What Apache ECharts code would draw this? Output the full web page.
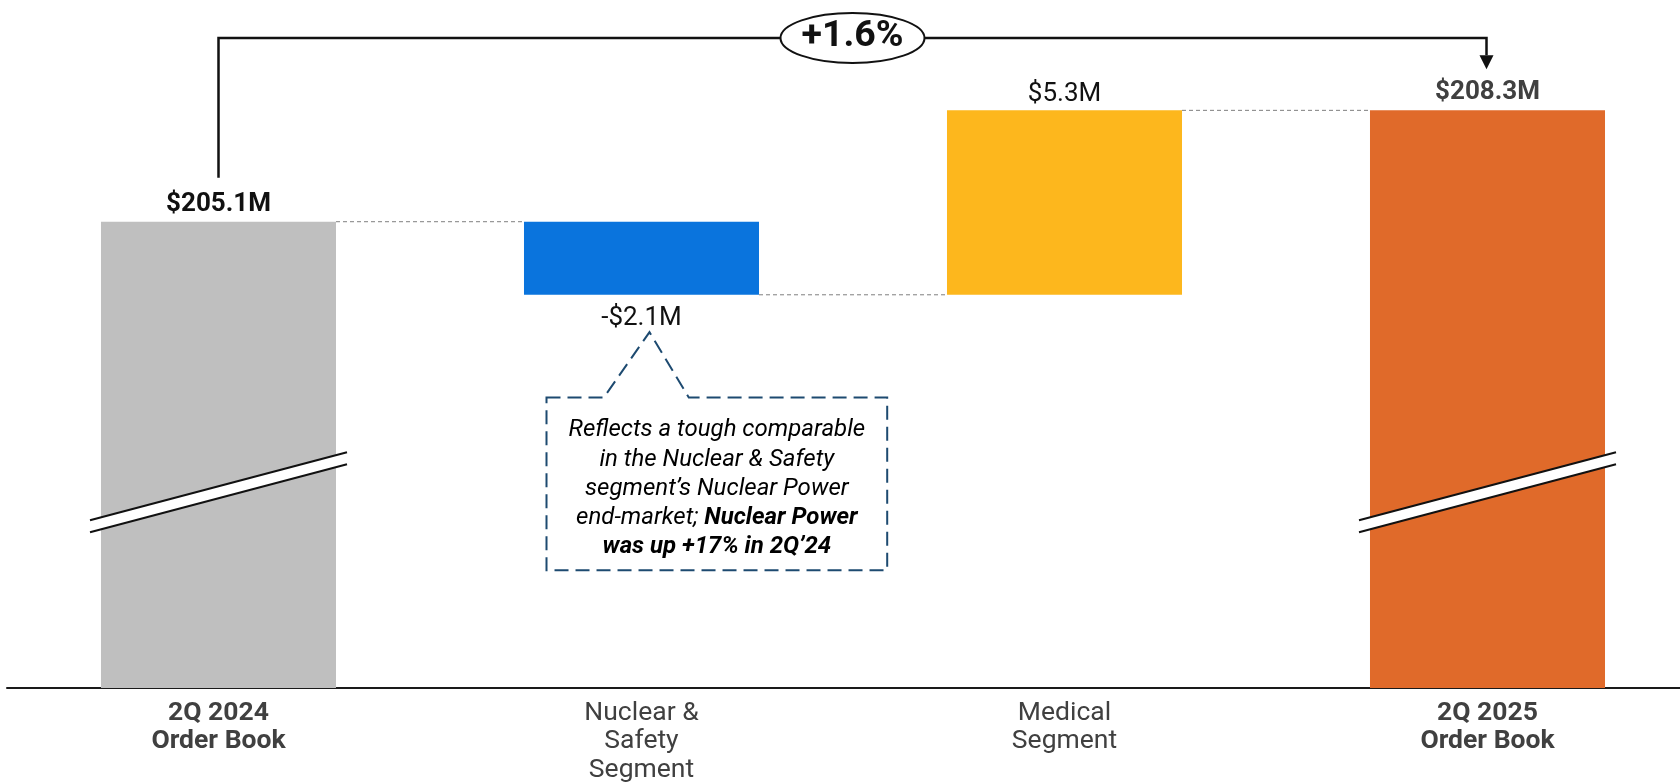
<!DOCTYPE html>
<html>
<head>
<meta charset="utf-8">
<title>Order Book Bridge</title>
<script src="https://cdn.jsdelivr.net/npm/echarts@6/dist/echarts.min.js"></script>
<style>
  html, body { margin: 0; padding: 0; background: #ffffff; }
  #chart { width: 1680px; height: 783px; }
</style>
</head>
<body>
<div id="chart"></div>
<script>
// ---- Data ($M) ----
const categories = ['2Q 2024\nOrder Book', 'Nuclear &\nSafety\nSegment', 'Medical\nSegment', '2Q 2025\nOrder Book'];
const totalCategories = [0, 3];
const openingBook = [205.1];
const segmentChanges = [-2.1, 5.3];
const closingBook = [208.3];
const calloutText = [
  '{i|Reflects a tough comparable}',
  '{i|in the Nuclear & Safety}',
  '{i|segment\u2019s Nuclear Power}',
  '{i|end-market; }{bi|Nuclear Power}',
  '{bi|was up +17% in 2Q\u201924}'
];

// ---- Styling ----
const barColors = ['#bfbfbf', '#0a74dd', '#fdb71d', '#e06a2a'];
const BAR_RATIO = 0.5556;
const FONT = 'Roboto, "Noto Sans", sans-serif';
const CALLOUT_COLOR = '#1d4a70';
const BREAK_VALUE = 197.5;

// Waterfall rows: [index, low, high, runningLevel, signedValue, isTotal]
const steps = [{ total: true, value: openingBook[0] }]
  .concat(segmentChanges.map(v => ({ total: false, value: v })))
  .concat([{ total: true, value: closingBook[0] }]);
let level = 0;
const rows = steps.map((s, i) => {
  let low, high;
  if (s.total) {
    level = s.value; low = s.value; high = s.value;
  } else {
    const prev = level;
    level = +(prev + s.value).toFixed(4);
    low = Math.min(prev, level); high = Math.max(prev, level);
  }
  return [i, low, high, level, s.value, s.total ? 1 : 0];
});
const growthPct = (closingBook[0] / openingBook[0] - 1) * 100;

function money(v) {
  return (v < 0 ? '-' : '') + '$' + Math.abs(v).toFixed(1) + 'M';
}

function renderBar(params, api) {
  const i = api.value(0);
  const low = api.value(1);
  const high = api.value(2);
  const lvl = api.value(3);
  const v = api.value(4);
  const isTotal = api.value(5) === 1;
  const cs = params.coordSys;
  const axisY = cs.y + cs.height;
  const topPt = api.coord([i, high]);
  const cx = topPt[0];
  const yTop = topPt[1];
  const yBottom = isTotal ? axisY : api.coord([i, low])[1];
  const bw = api.size([1, 0])[0] * BAR_RATIO;
  const children = [{
    type: 'rect',
    shape: { x: cx - bw / 2, y: yTop, width: bw, height: yBottom - yTop },
    style: { fill: barColors[i] }
  }];

  if (isTotal) {
    // axis-break marker across the tall total bars
    const yc = api.coord([i, BREAK_VALUE])[1];
    const hx = bw / 2 + 11;
    const rise = 34;
    const gap = 12;
    children.push({
      type: 'polygon',
      shape: { points: [[cx - hx, yc + rise], [cx + hx, yc - rise], [cx + hx, yc - rise + gap], [cx - hx, yc + rise + gap]] },
      style: { fill: '#ffffff' }
    });
    children.push({
      type: 'line',
      shape: { x1: cx - hx, y1: yc + rise, x2: cx + hx, y2: yc - rise },
      style: { stroke: '#111111', lineWidth: 2 }
    });
    children.push({
      type: 'line',
      shape: { x1: cx - hx, y1: yc + rise + gap, x2: cx + hx, y2: yc - rise + gap },
      style: { stroke: '#111111', lineWidth: 2 }
    });
  }

  // value label
  const labelY = v >= 0 ? yTop - (isTotal ? 17.5 : 16) : yBottom + 23.5;
  children.push({
    type: 'text',
    style: {
      text: money(v), x: cx, y: labelY,
      align: 'center', verticalAlign: 'middle',
      textAlign: 'center', textVerticalAlign: 'middle',
      fontFamily: FONT, fontSize: 26,
      fontWeight: isTotal ? 'bold' : 'normal',
      fill: i === categories.length - 1 ? '#404040' : '#111111'
    }
  });

  // dashed connector to the next bar
  if (i < categories.length - 1) {
    const yl = api.coord([i, lvl])[1];
    const nx = api.coord([i + 1, lvl])[0];
    children.push({
      type: 'line',
      shape: { x1: cx + bw / 2, y1: yl, x2: nx - bw / 2, y2: yl },
      style: { stroke: '#7f7f7f', lineWidth: 1, lineDash: [4, 3] }
    });
  }
  return { type: 'group', children: children };
}

function renderNotes(params, api) {
  const first = api.coord([0, openingBook[0]]);
  const last = api.coord([categories.length - 1, closingBook[0]]);
  const children = [];

  // growth bracket from opening to closing book
  const bracketY = 38;
  const x0 = first[0];
  const x1 = last[0] - 1;
  const tipY = last[1] - 41;
  const head = 14;
  children.push({
    type: 'polyline',
    shape: { points: [[x0, first[1] - 44], [x0, bracketY], [x1, bracketY], [x1, tipY - head]] },
    style: { stroke: '#111111', lineWidth: 2.5, fill: null }
  });
  children.push({
    type: 'polygon',
    shape: { points: [[x1 - 7, tipY - head], [x1 + 7, tipY - head], [x1, tipY]] },
    style: { fill: '#111111' }
  });
  const ex = (x0 + x1) / 2;
  children.push({
    type: 'ellipse',
    shape: { cx: ex, cy: bracketY, rx: 72, ry: 25 },
    style: { fill: '#ffffff', stroke: '#111111', lineWidth: 2 }
  });
  children.push({
    type: 'text',
    style: {
      text: '+' + growthPct.toFixed(1) + '%', x: ex, y: bracketY - 1,
      align: 'center', verticalAlign: 'middle',
      textAlign: 'center', textVerticalAlign: 'middle',
      fontFamily: FONT, fontSize: 37.5, fontWeight: 'bold', fill: '#111111'
    }
  });

  // callout under the Nuclear & Safety bar
  const seg = rows[1];
  const bottomPt = api.coord([1, seg[1]]);
  const bx = bottomPt[0];
  const by = bottomPt[1];
  const left = bx - 95, right = bx + 245.7, top = by + 102.7, bottom = by + 275.4;
  children.push({
    type: 'polygon',
    shape: {
      points: [[left, top], [bx - 37.7, top], [bx + 8, by + 37.4], [bx + 47.3, top],
               [right, top], [right, bottom], [left, bottom]]
    },
    style: { fill: null, stroke: CALLOUT_COLOR, lineWidth: 2, lineDash: [14, 7] }
  });
  children.push({
    type: 'text',
    style: {
      text: calloutText.join('\n'),
      x: (left + right) / 2, y: (top + bottom) / 2 + 5,
      align: 'center', verticalAlign: 'middle',
      textAlign: 'center', textVerticalAlign: 'middle',
      rich: {
        i: { fontFamily: FONT, fontSize: 24, fontStyle: 'italic', color: CALLOUT_COLOR, lineHeight: 29.2 },
        bi: { fontFamily: FONT, fontSize: 24, fontStyle: 'italic', fontWeight: 'bold', color: CALLOUT_COLOR, lineHeight: 29.2 }
      }
    }
  });
  return { type: 'group', children: children };
}

const chart = echarts.init(document.getElementById('chart'), null, { renderer: 'canvas' });
chart.setOption({
  animation: false,
  backgroundColor: '#ffffff',
  grid: { left: 7, top: 16.4, width: 1692, height: 671.6, containLabel: false, outerBoundsMode: 'none' },
  xAxis: {
    type: 'category',
    data: categories,
    axisLine: { show: true, lineStyle: { color: '#1a1a1a', width: 2 } },
    axisTick: { show: false },
    splitLine: { show: false },
    axisLabel: {
      interval: 0,
      margin: 11,
      formatter: (val, idx) => {
        const tag = totalCategories.indexOf(idx) >= 0 ? 'b' : 'r';
        return val.split('\n').map(l => '{' + tag + '|' + l + '}').join('\n');
      },
      rich: {
        b: { fontFamily: FONT, fontSize: 26.5, fontWeight: 'bold', color: '#404040', lineHeight: 28.5 },
        r: { fontFamily: FONT, fontSize: 26.5, fontWeight: 'normal', color: '#404040', lineHeight: 28.5 }
      }
    }
  },
  yAxis: {
    type: 'value',
    min: 191.7,
    max: 211,
    show: false,
    splitLine: { show: false }
  },
  series: [
    {
      type: 'custom',
      name: 'Order Book',
      renderItem: renderBar,
      encode: { x: 0, y: [1, 2] },
      data: rows,
      z: 2
    },
    {
      type: 'custom',
      name: 'Notes',
      renderItem: renderNotes,
      encode: { x: 0, y: 1 },
      data: [[0, openingBook[0]]],
      z: 3
    }
  ]
});
</script>
</body>
</html>
